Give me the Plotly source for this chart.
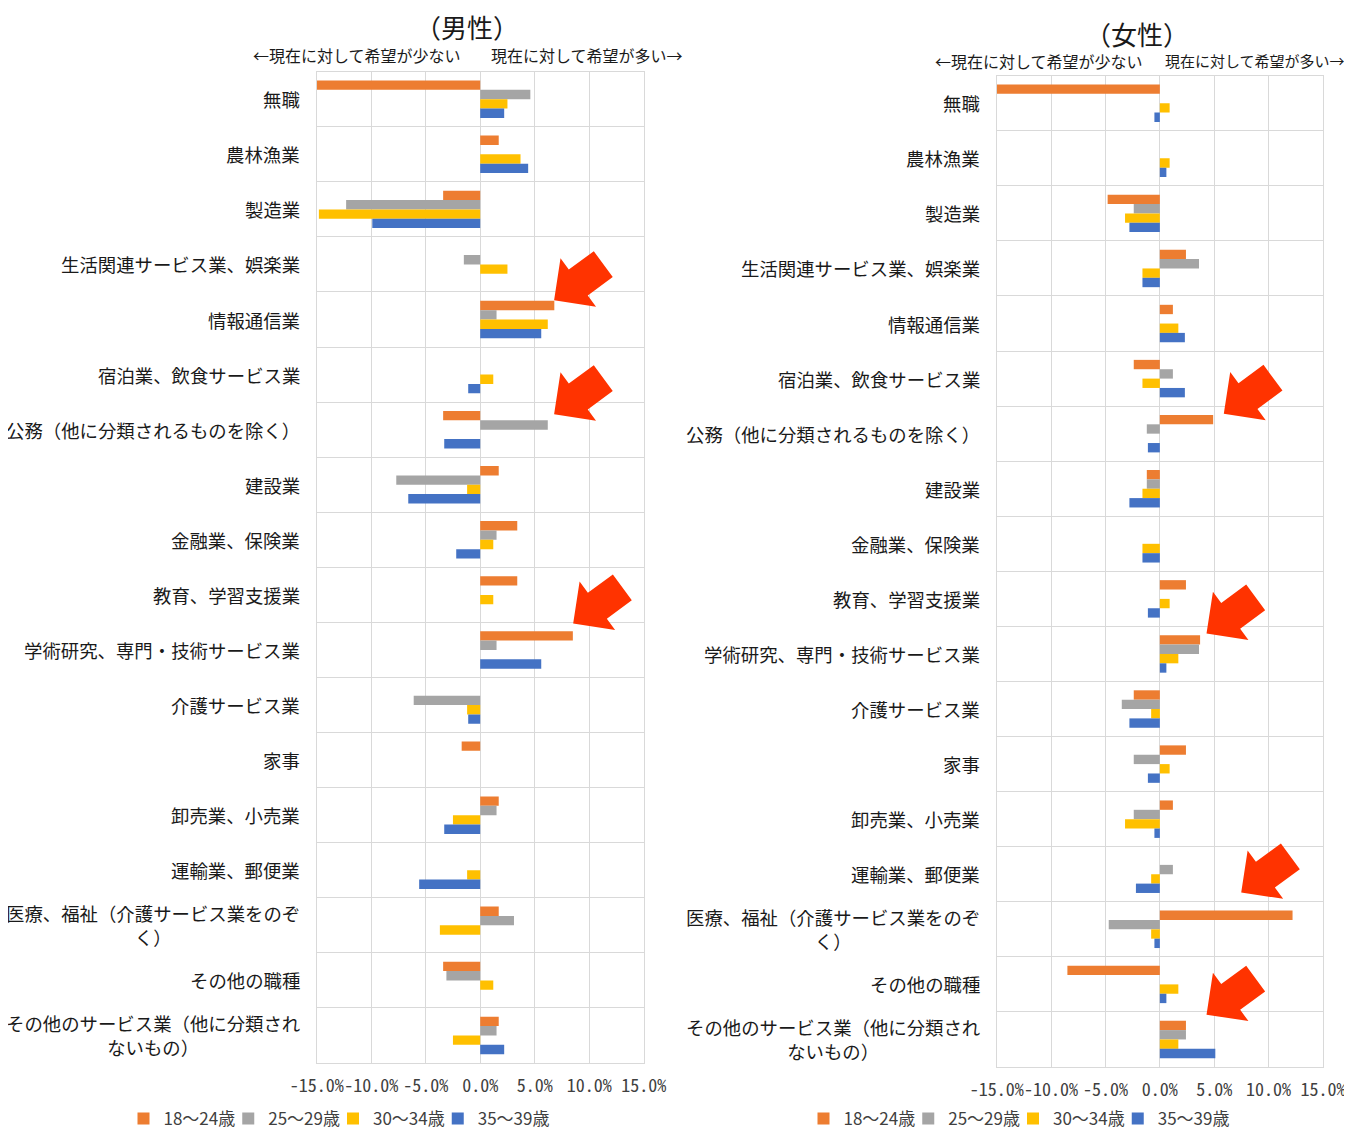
import plotly.graph_objects as go

# ---------------- data ----------------
categories = [
    "無職", "農林漁業", "製造業", "生活関連サービス業、娯楽業", "情報通信業",
    "宿泊業、飲食サービス業", "公務（他に分類されるものを除く）", "建設業",
    "金融業、保険業", "教育、学習支援業", "学術研究、専門・技術サービス業",
    "介護サービス業", "家事", "卸売業、小売業", "運輸業、郵便業",
    "医療、福祉（介護サービス業をのぞく）", "その他の職種",
    "その他のサービス業（他に分類されないもの）",
]
category_labels = [
    "無職", "農林漁業", "製造業", "生活関連サービス業、娯楽業", "情報通信業",
    "宿泊業、飲食サービス業", "公務（他に分類されるものを除く）", "建設業",
    "金融業、保険業", "教育、学習支援業", "学術研究、専門・技術サービス業",
    "介護サービス業", "家事", "卸売業、小売業", "運輸業、郵便業",
    "医療、福祉（介護サービス業をのぞ<br>く）", "その他の職種",
    "その他のサービス業（他に分類され<br>ないもの）",
]
series_names = ["18～24歳", "25～29歳", "30～34歳", "35～39歳"]
series_colors = ["#ED7D31", "#A5A5A5", "#FFC000", "#4472C4"]

male_18_24 = [-15.3, 1.7, -3.4, 0, 6.8, 0, -3.4, 1.7, 3.4, 3.4, 8.5, 0, -1.7, 1.7, 0, 1.7, -3.4, 1.7]
male_25_29 = [4.6, 0, -12.3, -1.5, 1.5, 0, 6.2, -7.7, 1.5, 0, 1.5, -6.1, 0, 1.5, 0, 3.1, -3.1, 1.5]
male_30_34 = [2.5, 3.7, -14.8, 2.5, 6.2, 1.2, 0, -1.2, 1.2, 1.2, 0, -1.2, 0, -2.5, -1.2, -3.7, 1.2, -2.5]
male_35_39 = [2.2, 4.4, -9.9, 0, 5.6, -1.1, -3.3, -6.6, -2.2, 0, 5.6, -1.1, 0, -3.3, -5.6, 0, 0, 2.2]

female_18_24 = [-15.9, 0, -4.8, 2.4, 1.2, -2.4, 4.9, -1.2, 0, 2.4, 3.7, -2.4, 2.4, 1.2, 0, 12.2, -8.5, 2.4]
female_25_29 = [0, 0, -2.4, 3.6, 0, 1.2, -1.2, -1.2, 0, 0, 3.6, -3.5, -2.4, -2.4, 1.2, -4.7, 0, 2.4]
female_30_34 = [0.9, 0.9, -3.2, -1.6, 1.7, -1.6, 0, -1.6, -1.6, 0.9, 1.7, -0.8, 0.9, -3.2, -0.8, -0.8, 1.7, 1.7]
female_35_39 = [-0.5, 0.6, -2.8, -1.6, 2.3, 2.3, -1.1, -2.8, -1.6, -1.1, 0.6, -2.8, -1.1, -0.5, -2.2, -0.5, 0.6, 5.1]

x_tickvals = [-15, -10, -5, 0, 5, 10, 15]
x_ticktext = ["-15.0%", "-10.0%", "-5.0%", "0.0%", "5.0%", "10.0%", "15.0%"]

panel_titles = ["（男性）", "（女性）"]
note_less = "←現在に対して希望が少ない"
note_more = "現在に対して希望が多い→"

# arrow tips: (x value in %, category index position)
male_arrow_tips = [(6.78, 3.65), (6.78, 5.72), (8.53, 9.52)]
female_arrow_tips = [(5.88, 5.64), (4.29, 9.63), (7.48, 14.33), (4.29, 16.55)]

# ---------------- layout geometry ----------------
WIN_W, WIN_H = 1352, 1133
OFF = 8                       # page body margin offset
FW, FH = WIN_W - OFF, WIN_H - OFF


def pxx(x):
    return (x - OFF) / FW


def pxy(y):
    return 1 - (y - OFF) / FH


FONT = "Noto Sans CJK JP"
TICKFONT = "Noto Sans Mono CJK JP, DejaVu Sans Mono, monospace"
GRID = "#D9D9D9"
panels = [
    dict(x0=316.7, x1=643.7, y0=71.7, y1=1063.0, xa="x", ya="y", legend="legend",
         title_x=467, title_y=27, note_y=55, less_shift=-17, more_shift=9,
         note_more_size=16, legend_x=345, legend_y=1119),
    dict(x0=996.7, x1=1323.0, y0=75.7, y1=1067.0, xa="x2", ya="y2", legend="legend2",
         title_x=1137, title_y=33, note_y=61, less_shift=-15, more_shift=3,
         note_more_size=15, legend_x=1025, legend_y=1119),
]
data_sets = [
    [male_18_24, male_25_29, male_30_34, male_35_39],
    [female_18_24, female_25_29, female_30_34, female_35_39],
]
arrow_sets = [male_arrow_tips, female_arrow_tips]

fig = go.Figure()
for p, vals in zip(panels, data_sets):
    for name, color, v in zip(series_names, series_colors, vals):
        fig.add_trace(go.Bar(
            x=v, y=categories, orientation="h", name=name,
            marker=dict(color=color, line=dict(width=0)),
            xaxis=p["xa"], yaxis=p["ya"], legend=p["legend"],
        ))

layout_axes = {}
annotations = []
shapes = []
legends = {}
n = len(categories)
for i, p in enumerate(panels):
    suffix = "" if i == 0 else str(i + 1)
    layout_axes["xaxis" + suffix] = dict(
        domain=[pxx(p["x0"]), pxx(p["x1"])], range=[-15, 15],
        tickvals=x_tickvals, ticktext=x_ticktext, tickangle=0,
        showgrid=True, gridcolor=GRID, gridwidth=1.3,
        zeroline=True, zerolinecolor=GRID, zerolinewidth=1.3,
        showline=True, linecolor=GRID, linewidth=1.3, mirror=True,
        ticks="", ticklabelstandoff=6, automargin=False,
        tickfont=dict(family=TICKFONT, size=18, color="#404040"),
        anchor="y" + suffix, fixedrange=True,
    )
    layout_axes["yaxis" + suffix] = dict(
        domain=[pxy(p["y1"]), pxy(p["y0"])], type="category",
        categoryorder="array", categoryarray=categories,
        range=[n - 0.5, -0.5], tickson="boundaries",
        showgrid=True, gridcolor=GRID, gridwidth=1.3,
        showline=True, linecolor=GRID, linewidth=1.3, mirror=True,
        showticklabels=False, ticks="", automargin=False,
        anchor="x" + suffix, fixedrange=True,
    )
    xref = "x" + suffix
    yref = "y" + suffix
    # category labels
    for cat, lab in zip(categories, category_labels):
        annotations.append(dict(
            x=-0.045, xref=xref + " domain", y=cat, yref=yref,
            text=lab, showarrow=False, xanchor="right", yanchor="middle",
            align="center", font=dict(family=FONT, size=18.4, color="#1a1a1a"),
        ))
    # titles
    annotations.append(dict(
        x=pxx(p["title_x"]), xref="paper", y=pxy(p["title_y"]), yref="paper",
        text=panel_titles[i], showarrow=False, xanchor="center", yanchor="middle",
        font=dict(family=FONT, size=26, color="#1a1a1a"),
    ))
    annotations.append(dict(
        x=0, xref=xref, y=pxy(p["note_y"]), yref="paper", xshift=p["less_shift"],
        text=note_less, showarrow=False, xanchor="right", yanchor="middle",
        font=dict(family=FONT, size=16, color="#1a1a1a"),
    ))
    annotations.append(dict(
        x=0, xref=xref, y=pxy(p["note_y"]), yref="paper", xshift=p["more_shift"],
        text=note_more, showarrow=False, xanchor="left", yanchor="middle",
        font=dict(family=FONT, size=p["note_more_size"], color="#1a1a1a"),
    ))
    # arrows (decorative block arrows pointing at bars)
    row_h = (p["y1"] - p["y0"]) / n
    px_per_unit = (p["x1"] - p["x0"]) / 30.0
    bx, by = 0.806, -0.592   # backward direction (screen px)
    vx, vy = 0.592, 0.806    # perpendicular
    outline = [(0, 0), (30, -30), (30, -16), (61, -16), (61, 16), (30, 16), (30, 30)]
    for tx, ty in arrow_sets[i]:
        tip_px = p["x0"] + (tx + 15) * px_per_unit
        tip_py = p["y0"] + (ty + 0.5) * row_h
        pts = []
        for b, v in outline:
            X = tip_px + b * bx + v * vx
            Y = tip_py + b * by + v * vy
            pts.append((pxx(X), pxy(Y)))
        path = "M " + " L ".join(f"{a:.5f},{c:.5f}" for a, c in pts) + " Z"
        shapes.append(dict(type="path", xref="paper", yref="paper", path=path,
                           fillcolor="#FF3300", line=dict(width=0), layer="above"))
    legends[p["legend"]] = dict(
        orientation="h", xanchor="center", yanchor="middle",
        x=pxx(p["legend_x"]), y=pxy(p["legend_y"]),
        font=dict(family=FONT, size=17, color="#404040"),
        bgcolor="rgba(0,0,0,0)", itemwidth=30, traceorder="normal",
        indentation=-12,
    )

fig.update_layout(
    width=FW, height=FH, margin=dict(l=0, r=0, t=0, b=0, pad=0, autoexpand=False),
    paper_bgcolor="white", plot_bgcolor="white",
    barmode="group", bargap=0.32, bargroupgap=0,
    showlegend=True,
    annotations=annotations, shapes=shapes,
    font=dict(family=FONT),
    **legends,
    **layout_axes,
)

fig.write_html("out.html")
